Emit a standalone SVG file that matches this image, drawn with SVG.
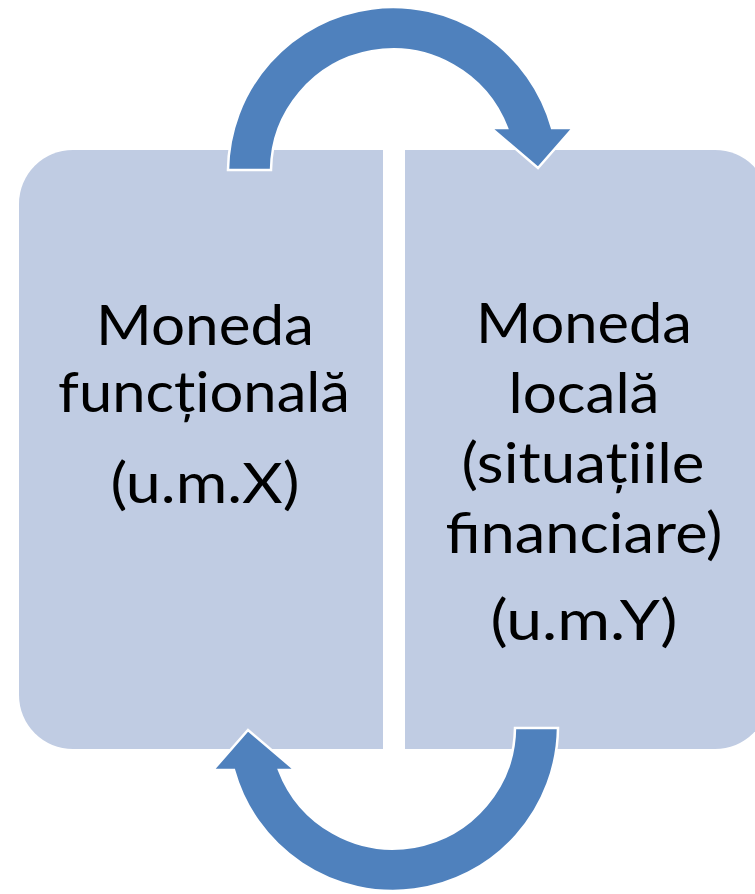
<svg xmlns="http://www.w3.org/2000/svg" width="755" height="894" viewBox="0 0 755 894">
<style>
.box{fill:#c0cce3;}
.arrow{fill:#4f81bd;stroke:#ffffff;stroke-width:2.5;stroke-linejoin:miter;}
.t{font-family:Lato,"Open Sans","Liberation Sans",sans-serif;font-size:56px;fill:#000000;text-anchor:middle;}
</style>
<rect width="755" height="894" fill="#ffffff"/>
<g id="node-functional">
<path class="box" d="M73,150 H383 V749 H73 A54,54 0 0 1 19,695 V204 A54,54 0 0 1 73,150 Z"/>
<text class="t" x="205" y="345" textLength="218" lengthAdjust="spacingAndGlyphs">Moneda</text>
<text class="t" x="204" y="412" textLength="292" lengthAdjust="spacingAndGlyphs">funcțională</text>
<text class="t" x="205" y="503" textLength="189" lengthAdjust="spacingAndGlyphs">(u.m.X)</text>
</g>
<g id="node-local">
<path class="box" d="M405,150 H715 A54,54 0 0 1 769,204 V695 A54,54 0 0 1 715,749 H405 Z"/>
<text class="t" x="584" y="343" textLength="216" lengthAdjust="spacingAndGlyphs">Moneda</text>
<text class="t" x="584" y="413" textLength="151" lengthAdjust="spacingAndGlyphs">locală</text>
<text class="t" x="583" y="483" textLength="243" lengthAdjust="spacingAndGlyphs">(situațiile</text>
<text class="t" x="584" y="553" textLength="277" lengthAdjust="spacingAndGlyphs">financiare)</text>
<text class="t" x="584" y="640" textLength="187" lengthAdjust="spacingAndGlyphs">(u.m.Y)</text>
</g>
<g id="connectors">
<path id="arrow-top" class="arrow" d="M228,170 A165,165 0 0 1 552,128 L573,128 L538,168 L491,128 L507,128 A122,122 0 0 0 271,170 Z"/>
<path id="arrow-bottom" class="arrow" transform="rotate(180 393 449)" d="M228,170 A165,165 0 0 1 552,128 L573,128 L538,168 L491,128 L507,128 A122,122 0 0 0 271,170 Z"/>
</g>
</svg>
